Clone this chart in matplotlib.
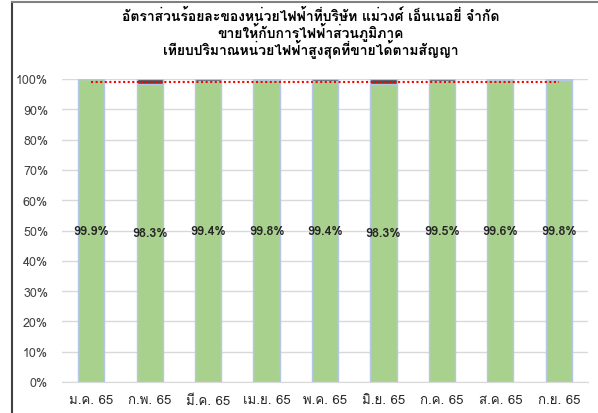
import matplotlib
matplotlib.use("Agg")
import matplotlib.pyplot as plt
from matplotlib import font_manager
from matplotlib.ft2font import FT2Font
from matplotlib.lines import Line2D
import numpy as np

months = ["ม.ค. 65", "ก.พ. 65", "มี.ค. 65", "เม.ย. 65", "พ.ค. 65",
          "มิ.ย. 65", "ก.ค. 65", "ส.ค. 65", "ก.ย. 65"]
pct = [99.9, 98.3, 99.4, 99.8, 99.4, 98.3, 99.5, 99.6, 99.8]
target = 99.0
title = ("อัตราส่วนร้อยละของหน่วยไฟฟ้าที่บริษัท แม่วงศ์ เอ็นเนอยี่ จำกัด\n"
         "ขายให้กับการไฟฟ้าส่วนภูมิภาค\n"
         "เทียบปริมาณหน่วยไฟฟ้าสูงสุดที่ขายได้ตามสัญญา")

# find a font that has Thai glyphs
thai = None
for f in font_manager.fontManager.ttflist:
    try:
        if 0x0E01 in FT2Font(f.fname).get_charmap():
            thai = f.name
            break
    except Exception:
        pass
fams = ([thai] if thai else []) + ["DejaVu Sans"]
plt.rcParams['font.family'] = fams

fig = plt.figure(figsize=(5.98, 4.14), dpi=100)
ax = fig.add_axes([62/598, 1 - 383/414, 526/598, 303/414])

x = np.arange(len(months))
rest = [100 - v for v in pct]
ax.bar(x, pct, width=0.45, color="#a9d18e", edgecolor="#b4c7e7", linewidth=1, zorder=2)
ax.bar(x, rest, width=0.45, bottom=pct, color="#4d4d4d", edgecolor="#b4c7e7", linewidth=1, zorder=2)
ax.plot([x[0], x[-1]], [target, target], color="#ff0000", linestyle=(0, (1, 1.2)),
        linewidth=1.5, zorder=3)

for i, v in enumerate(pct):
    ax.text(i, v / 2, "%.1f%%" % v, ha="center", va="center", fontsize=9,
            fontweight="bold", color="#262626", zorder=4)

ax.set_xlim(-0.5, len(months) - 0.5)
ax.set_ylim(0, 100)
ax.set_yticks(np.arange(0, 101, 10))
ax.set_yticklabels(["%d%%" % t for t in range(0, 101, 10)], fontsize=9, color="#404040")
ax.set_xticks(x)
ax.set_xticklabels(months, fontsize=9.5, color="#262626")
ax.grid(axis="y", color="#d9d9d9", linewidth=1, zorder=0)
ax.set_axisbelow(True)
for s in ["top", "right", "left"]:
    ax.spines[s].set_visible(False)
ax.spines["bottom"].set_color("#d9d9d9")
ax.tick_params(length=0, pad=9)
ax.tick_params(axis="y", pad=10)

fig.text(311/598, 1 - 34/414, title, ha="center", va="center", fontsize=10,
         fontweight="bold", linespacing=0.9, color="#000000")

fig.add_artist(Line2D([12/598, 12/598], [0, 1 - 3/414], color="#404040", linewidth=1.5))
fig.add_artist(Line2D([12/598, 1], [1 - 3/414, 1 - 3/414], color="#808080", linewidth=1.5))

fig.savefig("out.png", dpi=100)
